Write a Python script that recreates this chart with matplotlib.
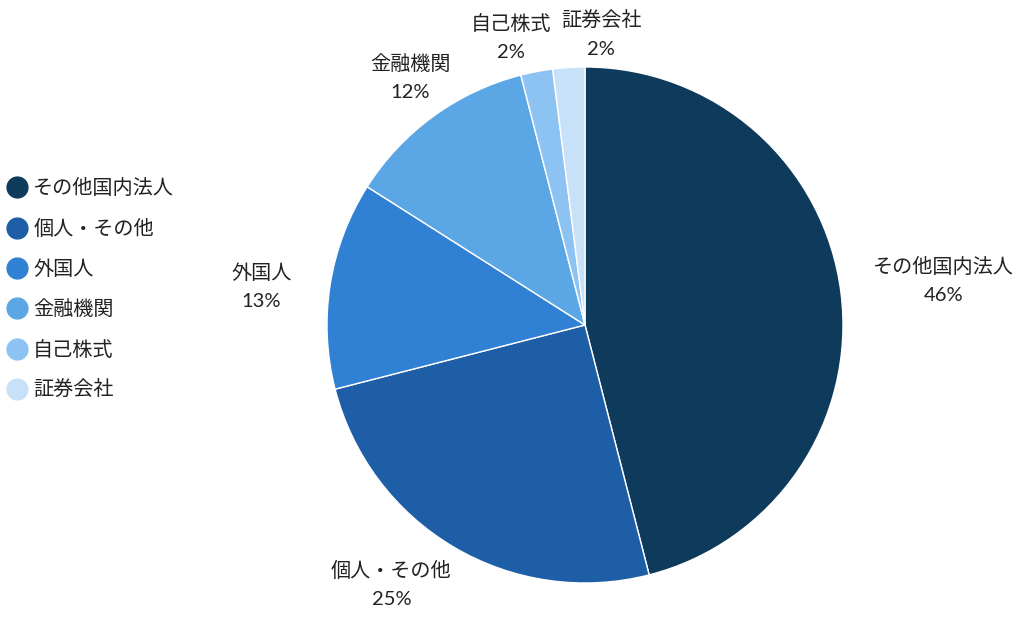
import numpy as np
import matplotlib.pyplot as plt
from matplotlib.lines import Line2D

plt.rcParams['font.family'] = ['Lato', 'Noto Sans CJK JP', 'DejaVu Sans']

labels = ['その他国内法人', '個人・その他', '外国人', '金融機関', '自己株式', '証券会社']
shares = [46, 25, 13, 12, 2, 2]
colors = ['#0e3a5c', '#1e5ea6', '#3081d4', '#5ba6e4', '#8dc3f2', '#c7e1f8']
# radial distance of each label (in pie radii) plus a small nudge in pixels
label_dist = [1.4, 1.17, 1.27, 1.2, 1.15, 1.15]
label_dx = [0, -40, 0, 7, -18, 35]
label_dy = [-1, 0, -13, -3, -4, -6]

fig = plt.figure(figsize=(10.24, 6.18), dpi=100)
ax = fig.add_axes([0, 0, 1, 1])

cx, cy, r = 585, 293, 258
wedges, _ = ax.pie(shares, colors=colors, startangle=90, counterclock=False,
                   center=(cx, cy), radius=r, frame=True,
                   wedgeprops=dict(edgecolor='white', linewidth=1))
ax.set_xlim(0, 1024)
ax.set_ylim(0, 618)
ax.axis('off')

for w, lab, val, d, dx, dy in zip(wedges, labels, shares, label_dist, label_dx, label_dy):
    mid = np.deg2rad((w.theta1 + w.theta2) / 2)
    x = cx + r * d * np.cos(mid) + dx
    y = cy + r * d * np.sin(mid) + dy
    ax.text(x, y, f'{lab}\n{val}%', ha='center', va='center', fontsize=14.5,
            color='#222222', linespacing=1.8)

handles = [Line2D([0], [0], marker='o', linestyle='none', markersize=15,
                  markerfacecolor=c, markeredgecolor=c) for c in colors]
leg = ax.legend(handles, labels, loc='upper left', bbox_to_anchor=(-0.003, 0.725),
                frameon=False, fontsize=14.5, labelspacing=1.07,
                handletextpad=0.2, handlelength=1.2, borderaxespad=0)
for t in leg.get_texts():
    t.set_color('#222222')

fig.savefig('out.png', dpi=100)
